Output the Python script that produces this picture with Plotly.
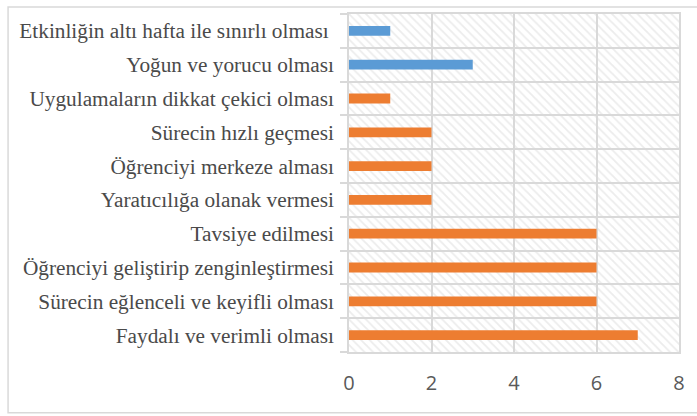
import plotly.graph_objects as go

categories = [
    "Faydalı ve verimli olması",
    "Sürecin eğlenceli ve keyifli olması",
    "Öğrenciyi geliştirip zenginleştirmesi",
    "Tavsiye edilmesi",
    "Yaratıcılığa olanak vermesi",
    "Öğrenciyi merkeze alması",
    "Sürecin hızlı geçmesi",
    "Uygulamaların dikkat çekici olması",
    "Yoğun ve yorucu olması",
    "Etkinliğin altı hafta ile sınırlı olması\u00a0",
]
values = [7, 6, 6, 6, 2, 2, 2, 1, 3, 1]
groups = ["pos", "pos", "pos", "pos", "pos", "pos", "pos", "pos", "neg", "neg"]
color_map = {"pos": "#ED7D31", "neg": "#5B9BD5"}
x_ticks = [0, 2, 4, 6, 8]

W, H = 697, 416
L, R, T, B = 349, 16, 13, 64
pw, ph = W - L - R, H - T - B

positions = list(range(len(categories)))

fig = go.Figure()
# hatched plot-area background on its own hidden axes (drawn underneath)
fig.add_trace(go.Bar(
    x=[1], y=[0.5], width=[1], orientation="h",
    marker=dict(color="rgba(0,0,0,0)", line=dict(width=0),
                pattern=dict(shape="\\", fgcolor="#D9D9D9", bgcolor="rgba(0,0,0,0)",
                             size=6, solidity=0.3)),
    xaxis="x", yaxis="y", hoverinfo="skip", showlegend=False,
))
fig.add_trace(go.Bar(
    x=values, y=positions, orientation="h", width=0.29,
    marker=dict(color=[color_map[g] for g in groups], line=dict(width=0)),
    xaxis="x2", yaxis="y2", showlegend=False,
))

grid = "#D9D9D9"
fig.update_layout(
    width=W, height=H,
    margin=dict(l=L, r=R, t=T, b=B),
    paper_bgcolor="white", plot_bgcolor="white",
    xaxis=dict(range=[0, 1], visible=False, fixedrange=True),
    yaxis=dict(range=[0, 1], visible=False, fixedrange=True),
    xaxis2=dict(
        overlaying="x", range=[0, 8], tickvals=x_ticks, ticktext=[str(v) for v in x_ticks],
        showgrid=True, gridcolor=grid, gridwidth=1.5, zeroline=False,
        showline=True, linecolor=grid, linewidth=1.5, mirror=True,
        ticks="", ticklabelstandoff=12,
        minor=dict(tickvals=x_ticks, showgrid=True, gridcolor=grid, gridwidth=1.5, ticks=""),
        tickfont=dict(family="Open Sans, Liberation Sans, sans-serif", size=20, color="#595959"),
        anchor="y2", side="bottom",
    ),
    yaxis2=dict(
        overlaying="y", range=[-0.5, len(categories) - 0.5],
        tickvals=positions, ticktext=categories,
        showgrid=False, zeroline=False,
        showline=True, linecolor=grid, linewidth=1.5, mirror=True,
        ticks="", ticklabelstandoff=9,
        minor=dict(tickvals=[p - 0.5 for p in positions] + [len(categories) - 0.5],
                   ticks="outside", ticklen=7, tickcolor=grid, tickwidth=1.5,
                   showgrid=True, gridcolor=grid, gridwidth=1.5),
        tickfont=dict(family="Liberation Serif, Times New Roman, serif", size=21.3, color="#4A4A4A"),
        anchor="x2", side="left",
    ),
    shapes=[dict(
        type="rect", xref="paper", yref="paper",
        x0=(6 - L) / pw, x1=(W + 20 - L) / pw,
        y0=1 - (413 - T) / ph, y1=1 + (T - 6) / ph,
        line=dict(color="#D9D9D9", width=1.5), fillcolor="rgba(0,0,0,0)", layer="below",
    )],
)

fig.write_html("out.html", config={"displayModeBar": False},
               post_script="document.body.style.margin='0';")
